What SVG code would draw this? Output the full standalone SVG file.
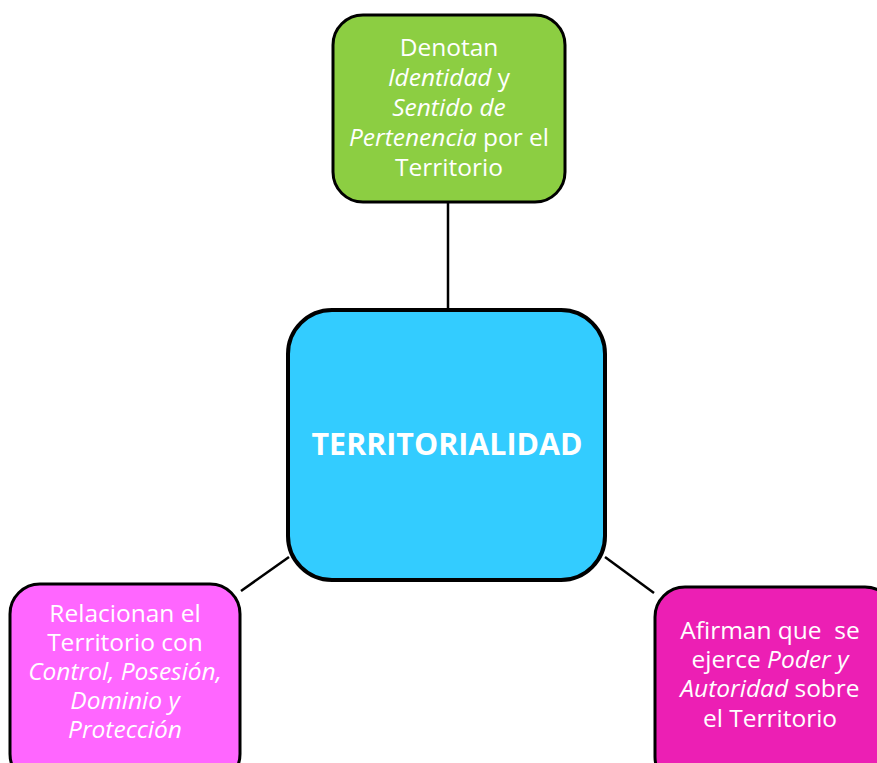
<svg xmlns="http://www.w3.org/2000/svg" width="877" height="763" viewBox="0 0 877 763">
<style>
.box{stroke:#000;stroke-width:3}
.t{font-family:"Open Sans","Liberation Sans",sans-serif;font-size:24.5px;fill:#fff;text-anchor:middle}
.i{font-style:italic}
.c{stroke:#000;stroke-width:2.5;fill:none}
</style>
<rect width="877" height="763" fill="#fff"/>
<g id="connectors">
<line class="c" x1="448" y1="202" x2="448" y2="309"/>
<line class="c" x1="241" y1="591" x2="289" y2="557"/>
<line class="c" x1="605" y1="557" x2="654" y2="593"/>
</g>
<g id="top">
<rect class="box" x="333" y="15" width="232" height="187" rx="30" fill="#8CCE42"/>
<text class="t" x="449" y="56">Denotan</text>
<text class="t" x="449" y="86"><tspan class="i">Identidad</tspan> y</text>
<text class="t" x="449" y="116"><tspan class="i">Sentido de</tspan></text>
<text class="t" x="449" y="146"><tspan class="i">Pertenencia</tspan> por el</text>
<text class="t" x="449" y="176">Territorio</text>
</g>
<g id="center">
<rect x="288" y="310" width="317" height="270" rx="44" fill="#33CCFF" stroke="#000" stroke-width="4"/>
<text x="447" y="455" textLength="271" lengthAdjust="spacingAndGlyphs" style="font-family:'Open Sans','Liberation Sans',sans-serif;font-size:31px;font-weight:bold;fill:#fff;text-anchor:middle">TERRITORIALIDAD</text>
</g>
<g id="left">
<rect class="box" x="10" y="584" width="230" height="200" rx="30" fill="#FF66FF"/>
<text class="t" x="125" y="622">Relacionan el</text>
<text class="t" x="125" y="651">Territorio con</text>
<text class="t i" x="125" y="680">Control, Posesión,</text>
<text class="t i" x="125" y="709">Dominio y</text>
<text class="t i" x="125" y="738">Protección</text>
</g>
<g id="right">
<rect class="box" x="655" y="587" width="240" height="200" rx="30" fill="#EC1FB4"/>
<text class="t" x="770" y="639" xml:space="preserve">Afirman que  se</text>
<text class="t" x="770" y="668">ejerce <tspan class="i">Poder y</tspan></text>
<text class="t" x="770" y="697"><tspan class="i">Autoridad</tspan> sobre</text>
<text class="t" x="770" y="727">el Territorio</text>
</g>
</svg>
